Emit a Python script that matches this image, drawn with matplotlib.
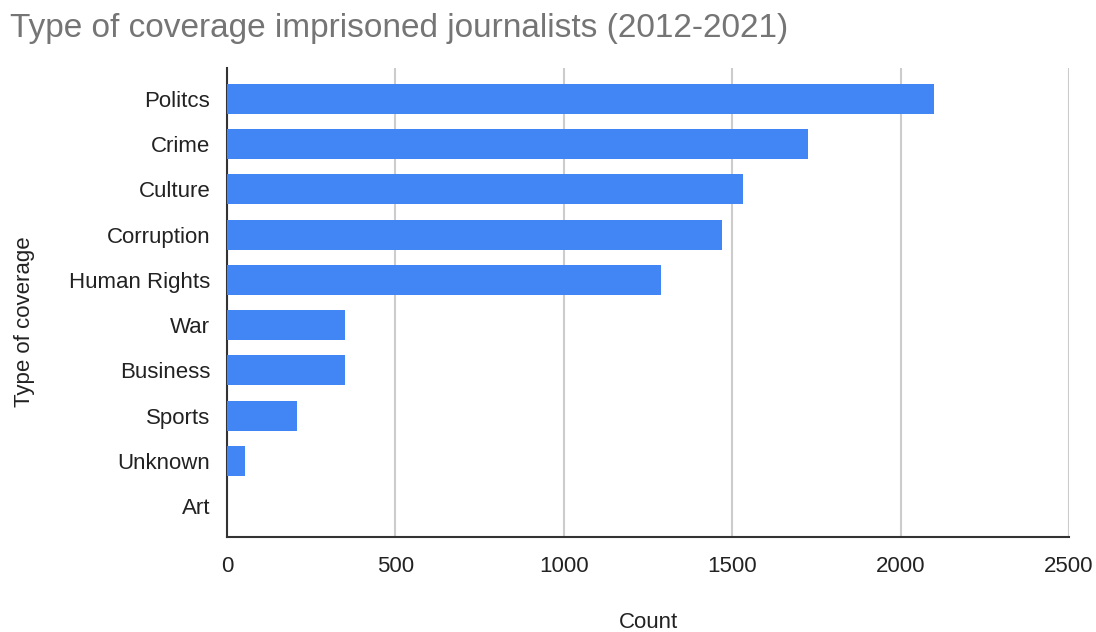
import matplotlib
matplotlib.use("Agg")
import matplotlib.pyplot as plt
import numpy as np

categories = ["Politcs", "Crime", "Culture", "Corruption", "Human Rights",
              "War", "Business", "Sports", "Unknown", "Art"]
counts = [2100, 1726, 1531, 1469, 1289, 349, 349, 209, 52, 0]
x_ticks = [0, 500, 1000, 1500, 2000, 2500]

plt.rcParams['font.family'] = ['Liberation Sans', 'DejaVu Sans']

fig = plt.figure(figsize=(10.96, 6.32), dpi=100)
ax = fig.add_axes([227/1096, 1 - 537/632, (1069-227)/1096, (537-68)/632])

y = np.arange(len(categories))
ax.barh(y, counts, height=0.66, color='#4285f4', zorder=3)

ax.set_xlim(0, 2500)
ax.set_ylim(len(categories) - 0.5 + 0.18, -0.5 - 0.18)
ax.set_xticks(x_ticks)
ax.set_xticklabels([str(t) for t in x_ticks])
ax.set_yticks(y)
ax.set_yticklabels(categories)

ax.grid(axis='x', color='#cccccc', linewidth=1.5, zorder=0)
for s in ['top', 'right']:
    ax.spines[s].set_visible(False)
ax.spines['left'].set_color('#333333')
ax.spines['bottom'].set_color('#333333')
ax.spines['left'].set_linewidth(1.5)
ax.spines['bottom'].set_linewidth(1.5)
ax.tick_params(axis='both', length=0, labelsize=16, colors='#222222')
ax.tick_params(axis='y', pad=12)
ax.tick_params(axis='x', pad=14)

# axis titles placed like the original
fig.text(648/1096, 1 - 623/632, 'Count', fontsize=16, color='#222222',
         ha='center', va='center')
fig.text(25/1096, 1 - 322/632, 'Type of coverage', fontsize=16, color='#222222',
         ha='center', va='center', rotation=90)

fig.text(10/1096, 1 - 29/632, 'Type of coverage imprisoned journalists (2012-2021)',
         fontsize=24, color='#757575', va='center', ha='left')

fig.savefig('out.png', dpi=100)
